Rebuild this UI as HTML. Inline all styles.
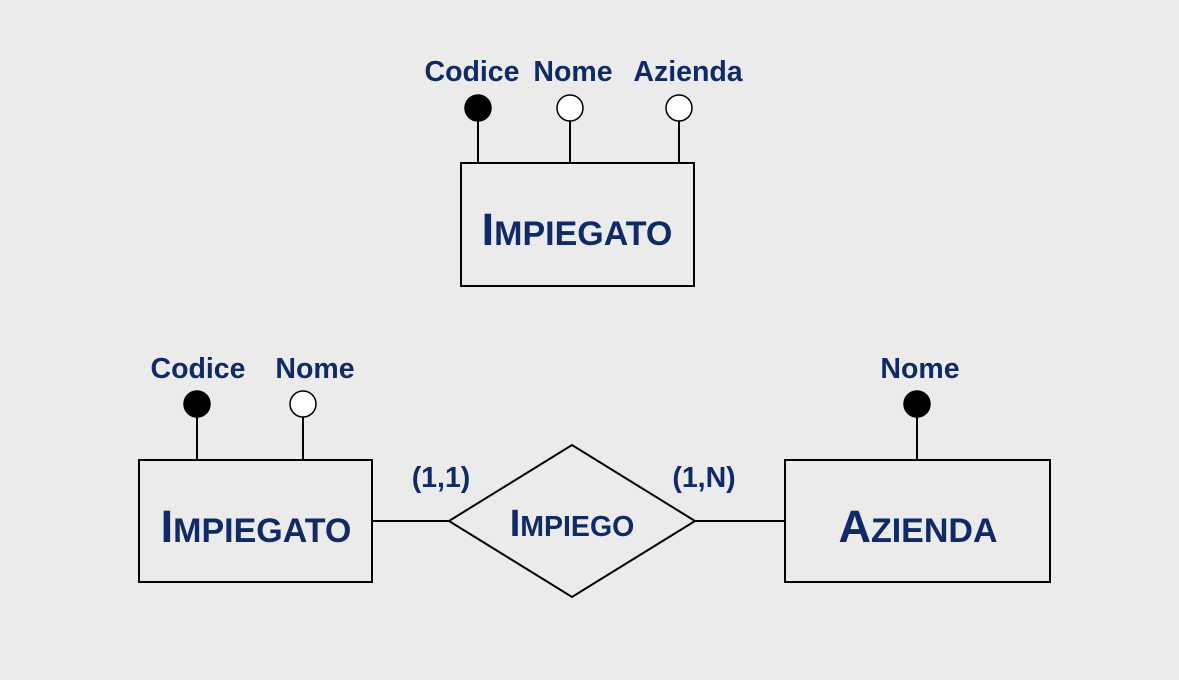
<!DOCTYPE html>
<html><head><meta charset="utf-8"><style>
html,body{margin:0;padding:0;background:#ebebeb;}
svg{display:block;}
text{font-family:"Liberation Sans",sans-serif;font-weight:bold;fill:#0f2a66;}
</style></head><body>
<svg width="1179" height="680" viewBox="0 0 1179 680">
<rect width="1179" height="680" fill="#ebebeb"/>
<g stroke="#000" stroke-width="2" fill="none">
<rect x="461" y="163" width="233" height="123"/>
<line x1="478" y1="121" x2="478" y2="163"/>
<line x1="570" y1="121" x2="570" y2="163"/>
<line x1="679" y1="121" x2="679" y2="163"/>
<rect x="139" y="460" width="233" height="122"/>
<rect x="785" y="460" width="265" height="122"/>
<line x1="197" y1="417" x2="197" y2="460"/>
<line x1="303" y1="417" x2="303" y2="460"/>
<line x1="917" y1="417" x2="917" y2="460"/>
<polygon points="449,521 572,445 695,521 572,597"/>
<line x1="372" y1="521" x2="449" y2="521"/>
<line x1="695" y1="521" x2="785" y2="521"/>
</g>
<g stroke="#000" stroke-width="1.5">
<circle cx="478" cy="108" r="13" fill="#000"/>
<circle cx="570" cy="108" r="13" fill="#fff"/>
<circle cx="679" cy="108" r="13" fill="#fff"/>
<circle cx="197" cy="404" r="13" fill="#000"/>
<circle cx="303" cy="404" r="13" fill="#fff"/>
<circle cx="917" cy="404" r="13" fill="#000"/>
</g>
<g font-size="28.5" text-anchor="middle">
<text x="472" y="81">Codice</text>
<text x="573" y="81">Nome</text>
<text x="688" y="81">Azienda</text>
<text x="198" y="378">Codice</text>
<text x="315" y="378">Nome</text>
<text x="920" y="378">Nome</text>
<text x="441" y="487">(1,1)</text>
<text x="704" y="487">(1,N)</text>
</g>
<text x="577" y="245" text-anchor="middle" font-size="34"><tspan font-size="45">I</tspan>MPIEGATO</text>
<text x="256" y="542" text-anchor="middle" font-size="34"><tspan font-size="45">I</tspan>MPIEGATO</text>
<text x="918" y="542" text-anchor="middle" font-size="34"><tspan font-size="45">A</tspan>ZIENDA</text>
<text x="572" y="536" text-anchor="middle" font-size="28.5"><tspan font-size="38">I</tspan>MPIEGO</text>
</svg>
</body></html>
